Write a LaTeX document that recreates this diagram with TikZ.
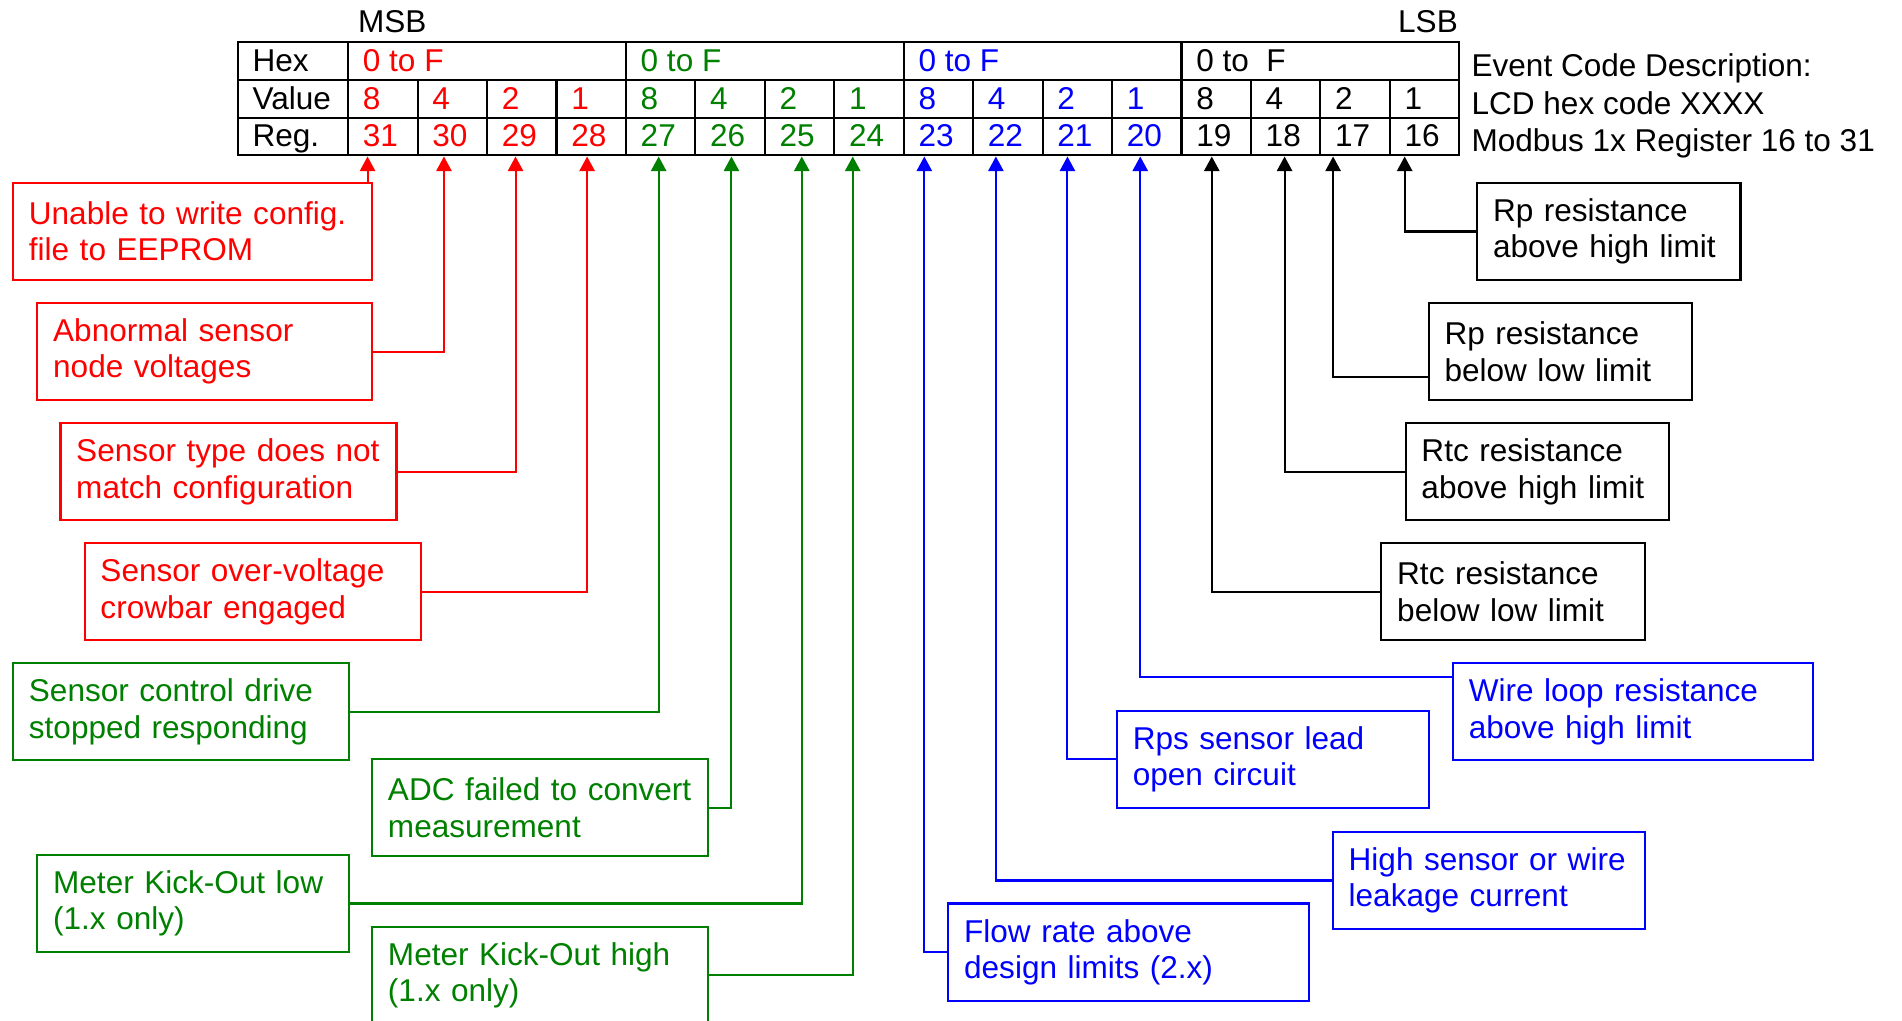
\documentclass[tikz,border=0pt]{standalone}
\usepackage{fontspec}
\setmainfont{Liberation Sans}
\usetikzlibrary{arrows.meta}
\definecolor{evgreen}{RGB}{0,128,0}

\begin{document}
    \begin{tikzpicture}[x=1pt, y=-1pt, font=\fontsize{26}{30}\selectfont,
        every node/.style={inner sep=0pt},
        tabline/.style={line width=1.7pt},
        cell/.style={anchor=base west},
        evbox/.style={draw, line width=1.7pt, anchor=north west, minimum height=80pt,
            inner xsep=13pt, align=left, text width=#1},
        conn/.style={line width=1.7pt, ->, >={Triangle[width=12.5pt,length=12pt]}}]
        \useasboundingbox (0,0) rectangle (1568,841);

        % Table
        \draw[tabline] (196,35) rectangle (1203,128);
        \draw[tabline] (196,66) -- (1203,66) (196,97) -- (1203,97);
        \draw[tabline] (287,35) -- (287,128) (516,35) -- (516,128)
            (745,35) -- (745,128) (974,35) -- (974,128);
        \node[cell] (msb) at (295,27) {MSB};
        \node[cell, anchor=base east] (lsb) at (1202,27) {LSB};
        \node[cell] (hex) at (208,59) {Hex};
        \node[cell] (value) at (208,90) {Value};
        \node[cell] (reg) at (208,121) {Reg.};
        \node[cell, red] (h0) at (299,59) {0 to F};
        \node[cell, evgreen] (h1) at (528,59) {0 to F};
        \node[cell, blue] (h2) at (757,59) {0 to F};
        \node[cell] (h3) at (986,59) {0 to\ \ F};
        \foreach \x/\v/\r/\c in {287/8/31/red, 344.25/4/30/red, 401.5/2/29/red, 458.75/1/28/red,
            516/8/27/evgreen, 573.25/4/26/evgreen, 630.5/2/25/evgreen, 687.75/1/24/evgreen,
            745/8/23/blue, 802.25/4/22/blue, 859.5/2/21/blue, 916.75/1/20/blue,
            974/8/19/black, 1031.25/4/18/black, 1088.5/2/17/black, 1145.75/1/16/black} {
            \draw[tabline] (\x,66) -- (\x,128);
            \node[cell, text=\c] (v\r) at (\x+12,90) {\v};
            \node[cell, text=\c] (r\r) at (\x+12,121) {\r};
        }

        % Description
        \node[cell] (desc) at (1213,63) {Event Code Description:};
        \node[cell] (lcd) at (1213,94) {LCD hex code XXXX};
        \node[cell] (modbus) at (1213,125) {Modbus 1x Register 16 to 31};

        % Arrow tips under the register row
        \foreach \r/\x in {31/303, 30/366, 29/425, 28/484, 27/543, 26/603, 25/661, 24/703,
            23/762, 22/821, 21/880, 20/940, 19/999, 18/1059, 17/1099, 16/1158}
            \coordinate (p\r) at (\x,129);

        % Events 31 to 28
        \node[evbox=270pt, red] (b1) at (10,150) {Unable to write config.\\file to EEPROM};
        \node[evbox=250pt, red] (b2) at (30,249) {Abnormal sensor\\node voltages};
        \node[evbox=251pt, red] (b3) at (49,348) {Sensor type does not\\match configuration};
        \node[evbox=251pt, red] (b4) at (69,447) {Sensor over-voltage\\crowbar engaged};
        \draw[conn, red] (b1.north -| p31) -- (p31);
        \draw[conn, red] (b2.east) -| (p30);
        \draw[conn, red] (b3.east) -| (p29);
        \draw[conn, red] (b4.east) -| (p28);

        % Events 27 to 24
        \node[evbox=251pt, evgreen] (b5) at (10,546) {Sensor control drive\\stopped responding};
        \node[evbox=251pt, evgreen] (b6) at (306,625) {ADC failed to convert\\measurement};
        \node[evbox=231pt, evgreen] (b7) at (30,704) {Meter Kick-Out low\\(1.x only)};
        \node[evbox=251pt, evgreen] (b8) at (306,763) {Meter Kick-Out high\\(1.x only)};
        \draw[conn, evgreen] (b5.east) -| (p27);
        \draw[conn, evgreen] (b6.east) -| (p26);
        \draw[conn, evgreen] (b7.east) -| (p25);
        \draw[conn, evgreen] (b8.east) -| (p24);

        % Events 23 to 20
        \node[evbox=271pt, blue] (b9) at (781,744) {Flow rate above\\design limits (2.x)};
        \node[evbox=231pt, blue] (b10) at (1098,685) {High sensor or wire\\leakage current};
        \node[evbox=231pt, blue] (b11) at (920,585) {Rps sensor lead\\open circuit};
        \node[evbox=271pt, blue] (b12) at (1197,546) {Wire loop resistance\\above high limit};
        \draw[conn, blue] (b9.west) -| (p23);
        \draw[conn, blue] (b10.west) -| (p22);
        \draw[conn, blue] (b11.west) -| (p21);
        \draw[conn, blue] ([yshift=-12pt]b12.north west) -| (p20);

        % Events 19 to 16
        \node[evbox=191pt] (b13) at (1138,447) {Rtc resistance\\below low limit};
        \node[evbox=191pt] (b14) at (1158,348) {Rtc resistance\\above high limit};
        \node[evbox=191pt] (b15) at (1177,249) {Rp resistance\\below low limit};
        \node[evbox=191pt] (b16) at (1217,150) {Rp resistance\\above high limit};
        \draw[conn] (b13.west) -| (p19);
        \draw[conn] (b14.west) -| (p18);
        \draw[conn] ([yshift=20pt]b15.south west) -| (p17);
        \draw[conn] (b16.west) -| (p16);
    \end{tikzpicture}
\end{document}
